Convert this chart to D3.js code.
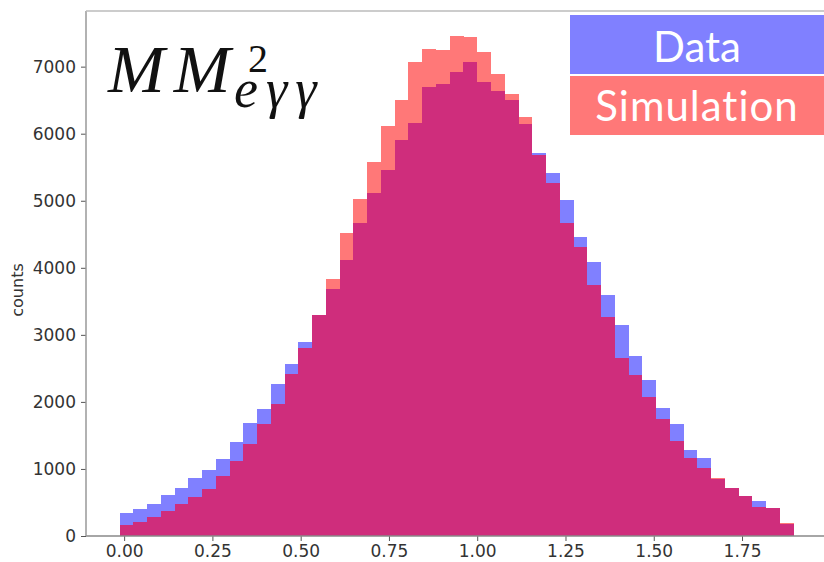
<!DOCTYPE html>
<html>
<head>
<meta charset="utf-8">
<script src="https://cdn.jsdelivr.net/npm/d3@7"></script>
<style>
  body { margin: 0; background: #fff; }
  svg { display: block; }
</style>
</head>
<body>
<div id="chart"></div>
<script>
// histogram bins: 49 bins starting at binStart, each binWidth wide
const binStart = -0.013;
const binWidth = 0.03894;

// counts per bin
const dataCounts = [
  348, 398, 482, 612, 716, 865, 985, 1153, 1407, 1681,
  1894, 2267, 2566, 2889, 3300, 3680, 4117, 4664, 5112, 5459,
  5907, 6165, 6693, 6737, 6926, 7076, 6777, 6643, 6504, 6146,
  5718, 5410, 5012, 4455, 4080, 3595, 3147, 2690, 2327, 1914,
  1666, 1283, 1159, 850, 711, 590, 527, 413, 185
];
const simCounts = [
  164, 214, 288, 373, 482, 577, 706, 900, 1124, 1372,
  1666, 1974, 2416, 2809, 3300, 3830, 4515, 5022, 5574, 6116,
  6504, 7066, 7260, 7250, 7463, 7438, 7215, 6887, 6589, 6255,
  5683, 5271, 4664, 4316, 3744, 3262, 2660, 2402, 2078, 1745,
  1417, 1159, 1019, 860, 711, 600, 438, 413, 200
];

const xTicks = [0, 0.25, 0.5, 0.75, 1.0, 1.25, 1.5, 1.75];
const yTicks = [0, 1000, 2000, 3000, 4000, 5000, 6000, 7000];
const legendLabels = ["Data", "Simulation"];

const renderChart = () => {
  const width = 824, height = 562;
  const margin = { top: 11, right: -1, bottom: 26, left: 86 };

  const blue = "#8080ff";
  const red = "#ff7878";
  const overlap = "#cf2d7c";

  const svg = d3.select("#chart")
    .append("svg")
    .attr("width", width)
    .attr("height", height);

  const x = d3.scaleLinear()
    .domain([-0.108, 1.985])
    .range([margin.left, width - margin.right]);
  const y = d3.scaleLinear()
    .domain([0, 7830])
    .range([height - margin.bottom, margin.top]);

  const bins = dataCounts.map((d, i) => ({
    x0: binStart + i * binWidth,
    x1: binStart + (i + 1) * binWidth,
    data: d,
    sim: simCounts[i],
  }));

  // draw the three layers: data (blue), simulation (red), overlap (crimson)
  const layers = [
    { color: blue, value: (d) => d.data },
    { color: red, value: (d) => d.sim },
    { color: overlap, value: (d) => Math.min(d.data, d.sim) },
  ];
  layers.forEach((layer) => {
    svg.append("g")
      .selectAll("rect")
      .data(bins)
      .join("rect")
      .attr("x", (d) => x(d.x0))
      .attr("width", (d) => x(d.x1) - x(d.x0) + 0.3)
      .attr("y", (d) => y(layer.value(d)))
      .attr("height", (d) => y(0) - y(layer.value(d)))
      .attr("fill", layer.color)
      .attr("shape-rendering", "crispEdges");
  });

  // left axis
  const yAxis = svg.append("g")
    .attr("transform", `translate(${margin.left},0)`)
    .call(d3.axisLeft(y).tickValues(yTicks).tickFormat(d3.format("d")).tickSize(5).tickPadding(5));
  yAxis.select(".domain").remove();
  yAxis.selectAll(".tick line").attr("stroke", "#555");
  yAxis.selectAll("text")
    .attr("fill", "#333")
    .style("font-family", "DejaVu Sans, sans-serif")
    .style("font-size", "17px");

  // bottom axis
  const xAxis = svg.append("g")
    .attr("transform", `translate(0,${y(0)})`)
    .call(d3.axisBottom(x).tickValues(xTicks).tickFormat(d3.format(".2f")).tickSize(5).tickPadding(4));
  xAxis.select(".domain").remove();
  xAxis.selectAll(".tick line").attr("stroke", "#555");
  xAxis.selectAll("text")
    .attr("fill", "#333")
    .style("font-family", "DejaVu Sans, sans-serif")
    .style("font-size", "17px");

  // frame
  svg.append("line")
    .attr("x1", margin.left).attr("x2", width)
    .attr("y1", y(0)).attr("y2", y(0))
    .attr("stroke", "#888").attr("stroke-width", 1.5);
  svg.append("line")
    .attr("x1", margin.left).attr("x2", margin.left)
    .attr("y1", margin.top).attr("y2", y(0))
    .attr("stroke", "#999").attr("stroke-width", 1.5);
  svg.append("line")
    .attr("x1", margin.left).attr("x2", width)
    .attr("y1", margin.top).attr("y2", margin.top)
    .attr("stroke", "#bbb").attr("stroke-width", 1.5);

  // y label
  svg.append("text")
    .attr("transform", `translate(23, 290) rotate(-90)`)
    .attr("text-anchor", "middle")
    .style("font-family", "DejaVu Sans, sans-serif")
    .style("font-size", "16px")
    .attr("fill", "#333")
    .text("counts");

  // title MM^2_{eγγ}
  const title = svg.append("text")
    .attr("x", 108)
    .attr("y", 92)
    .style("font-family", "Liberation Serif, serif")
    .style("font-style", "italic")
    .attr("fill", "#111");
  title.append("tspan")
    .style("font-size", "68px")
    .style("letter-spacing", "9px")
    .text("MM");
  title.append("tspan")
    .attr("x", 248).attr("y", 72)
    .style("font-size", "40px")
    .style("font-style", "normal")
    .text("2");
  title.append("tspan")
    .attr("x", 234).attr("y", 107)
    .style("font-size", "54px")
    .style("letter-spacing", "8px")
    .text("eγγ");

  // legend boxes
  const legend = svg.append("g");
  legend.selectAll("rect")
    .data(legendLabels)
    .join("rect")
    .attr("x", 570)
    .attr("y", (d, i) => 15 + i * 61)
    .attr("width", 260)
    .attr("height", 59)
    .attr("fill", (d, i) => (i === 0 ? blue : red));
  legend.selectAll("text")
    .data(legendLabels)
    .join("text")
    .attr("x", 697)
    .attr("y", (d, i) => 62 + i * 59)
    .attr("text-anchor", "middle")
    .style("font-family", "Lato, sans-serif")
    .style("font-size", "42px")
    .style("letter-spacing", (d, i) => (i === 0 ? "0px" : "1px"))
    .attr("fill", "#fff")
    .text((d) => d);
};

renderChart();
</script>
</body>
</html>
